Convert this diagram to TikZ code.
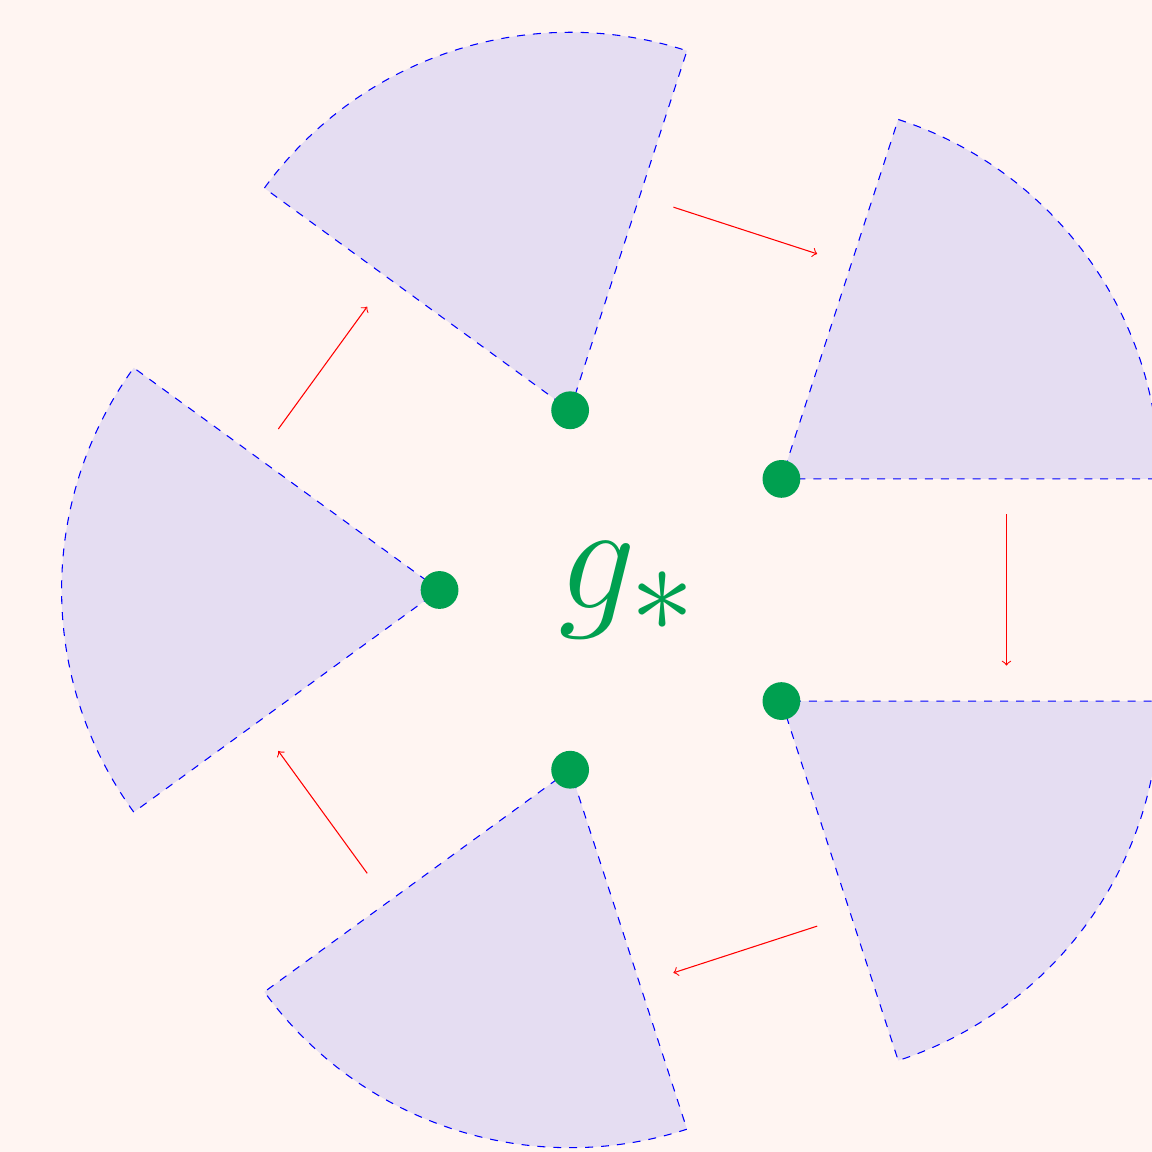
\documentclass[tikz,border=0pt]{standalone}
\usepackage{tikz}
\definecolor{bgc}{RGB}{255,245,242}
\definecolor{wedgefill}{RGB}{229,221,242}
\definecolor{dotgreen}{RGB}{0,160,80}
\begin{document}
\begin{tikzpicture}[x=2.5cm,y=2.5cm,
  wedge/.style={fill=wedgefill,draw=blue,dashed},
  dotnode/.style={circle,fill=dotgreen,inner sep=0pt,minimum size=0.5cm},
  flow/.style={->,red}]
\fill[bgc] (-3.326,-2.974) rectangle (2.769,3.122);
\useasboundingbox (-3.326,-2.974) rectangle (2.769,3.122);
\foreach \i/\a in {1/180,2/108,3/36,4/-36,5/-108}{
  \coordinate (p\i) at (\a:1);
  \filldraw[wedge] (p\i) -- ++(\a-36:2) arc[start angle=\a-36,end angle=\a+36,radius=2] -- cycle;
}
\foreach \i in {1,...,5}{
  \node[dotnode] (d\i) at (p\i) {};
}
\foreach \i/\a in {1/144,2/72,3/0,4/-72,5/-144}{
  \coordinate (s\i) at ([rotate=\a]2,0.4);
  \coordinate (e\i) at ([rotate=\a]2,-0.4);
  \draw[flow] (s\i) -- (e\i);
}
\node[text=dotgreen,inner sep=0pt,scale=2.33] (g) at (0,0) {\Huge$g_*$};
\end{tikzpicture}
\end{document}
